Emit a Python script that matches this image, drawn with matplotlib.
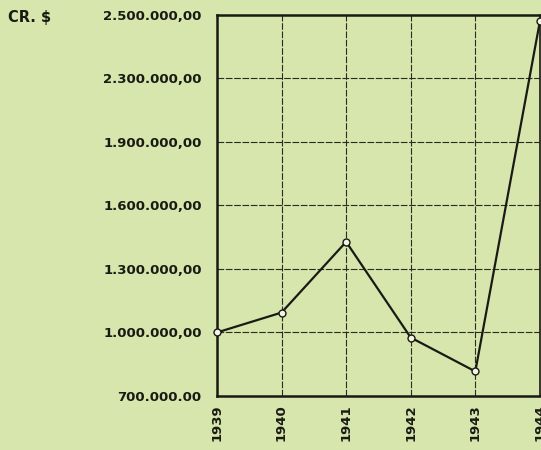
import numpy as np
import matplotlib.pyplot as plt

# === 数据 ===
years = [1939, 1940, 1941, 1942, 1943, 1944]
values = [1000000, 1094000, 1428000, 976000, 816000, 2480000]

y_ticks = [700000, 1000000, 1300000, 1600000, 1900000, 2300000, 2500000]
y_labels = ["700.000.00", "1.000.000,00", "1.300.000,00", "1.600.000,00",
            "1.900.000,00", "2.300.000,00", "2.500.000,00"]
x_labels = ["1939", "1940", "1941", "1942", "1943", "1944"]

# 原图纵轴刻度间距相等但数值不等，用分段线性映射
pos = np.arange(len(y_ticks))


def fwd(v):
    return np.interp(v, y_ticks, pos)


def inv(p):
    return np.interp(p, pos, y_ticks)


BG = "#d6e6ac"
INK = "#1a1a14"

fig = plt.figure(figsize=(5.41, 4.5), dpi=100, facecolor=BG)
ax = fig.add_axes([0.401, 0.12, 0.597, 0.847], facecolor=BG)

ax.set_yscale("function", functions=(fwd, inv))
ax.set_ylim(y_ticks[0], y_ticks[-1])
ax.set_xlim(years[0], years[-1])

ax.set_yticks(y_ticks)
ax.set_yticklabels(y_labels)
ax.set_xticks(years)
ax.set_xticklabels(x_labels, rotation=90)
ax.minorticks_off()

ax.tick_params(length=0, pad=11, colors=INK, labelsize=9.5)
for lab in ax.get_yticklabels() + ax.get_xticklabels():
    lab.set_fontweight("bold")
ax.tick_params(axis="x", pad=6)

ax.grid(True, color="#2b2b22", linewidth=0.8, linestyle=(0, (6, 1.5)))
for s in ax.spines.values():
    s.set_linewidth(1.8)
    s.set_color(INK)
ax.spines["right"].set_linewidth(1.2)

ax.plot(years, values, color=INK, linewidth=1.6, marker="o", markersize=5,
        markerfacecolor="#f2f4e6", markeredgecolor=INK, markeredgewidth=1.0,
        clip_on=False, zorder=3)

fig.text(0.015, 0.962, "CR. $", fontsize=10.5, fontweight="bold", color=INK,
         va="center", ha="left")

fig.savefig("out.png", dpi=100, facecolor=BG)
